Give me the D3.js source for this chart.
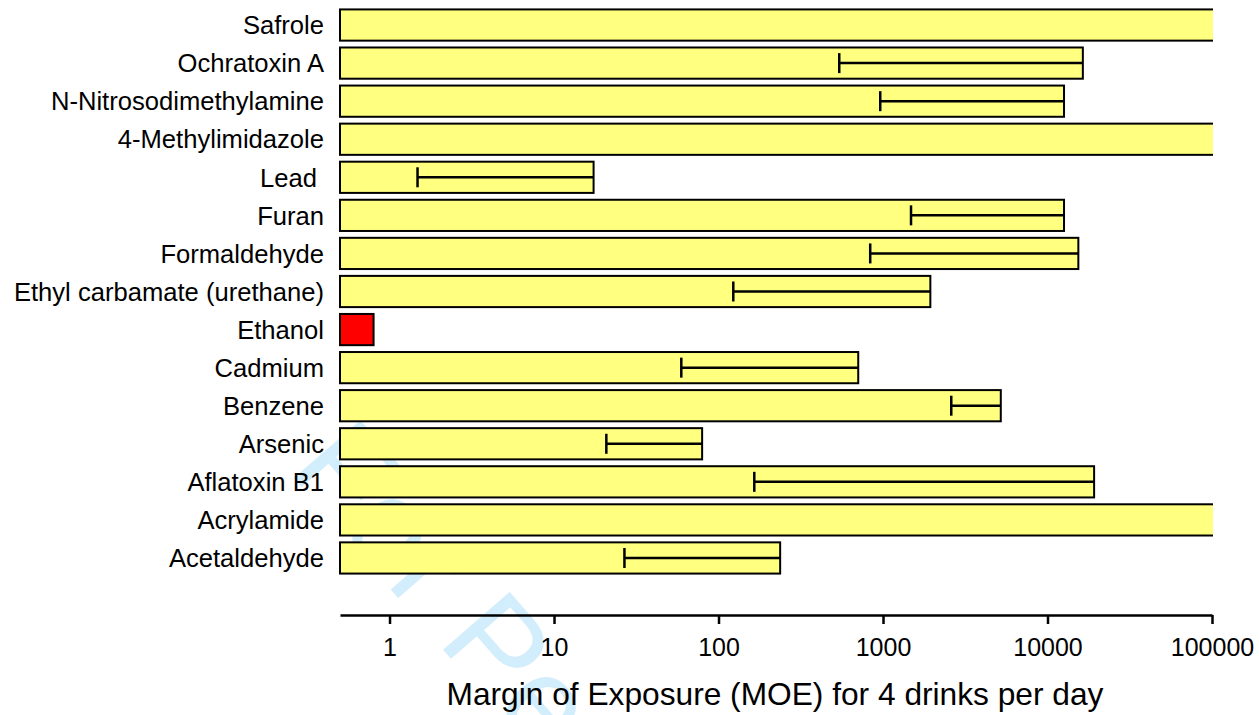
<!DOCTYPE html>
<html>
<head>
<meta charset="utf-8">
<script src="https://cdn.jsdelivr.net/npm/d3@7"></script>
<style>
  body { margin: 0; background: #fff; }
  svg { font-family: "Liberation Sans", Arial, sans-serif; }
</style>
</head>
<body>
<div id="chart"></div>
<script>
// data (top to bottom)
const compounds = ["Safrole", "Ochratoxin A", "N-Nitrosodimethylamine", "4-Methylimidazole", "Lead ",
  "Furan", "Formaldehyde", "Ethyl carbamate (urethane)", "Ethanol", "Cadmium", "Benzene",
  "Arsenic", "Aflatoxin B1", "Acrylamide", "Acetaldehyde"];
// upper MOE (bar end); values above 100000 run off the axis
const moeHigh = [300000, 16400, 12600, 300000, 17.4, 12600, 15400, 1940, 0.8, 707, 5200, 79.5, 19200, 300000, 237];
// lower MOE (start of range line), null where none shown
const moeLow = [null, 542, 962, null, 1.48, 1480, 836, 123, null, 59.4, 2600, 20.8, 165, null, 26.8];
const tickValues = [1, 10, 100, 1000, 10000, 100000];

const width = 1259, height = 715;
const margin = {left: 340, right: 47, top: 6, bottom: 138};

const svg = d3.select("#chart").append("svg")
  .attr("width", width)
  .attr("height", height);

// watermark
svg.append("text")
  .attr("transform", "translate(287,470) rotate(49)")
  .attr("font-size", 128)
  .attr("fill", "#d2edfb")
  .text("For Peer Review");

const x = d3.scaleLog()
  .domain([0.5, 100000])
  .range([margin.left, width - margin.right]);

const y = d3.scaleBand()
  .domain(compounds)
  .range([margin.top, 577])
  .paddingInner(0.18)
  .paddingOuter(0.09);

svg.append("clipPath").attr("id", "plotclip")
  .append("rect")
    .attr("x", margin.left - 2)
    .attr("y", 0)
    .attr("width", x(100000) - margin.left + 3)
    .attr("height", height);

const rows = compounds.map((c, i) => ({name: c, hi: moeHigh[i], lo: moeLow[i]}));

const plot = svg.append("g").attr("clip-path", "url(#plotclip)");

plot.selectAll("rect.bar")
  .data(rows)
  .join("rect")
    .attr("class", "bar")
    .attr("x", x(0.5))
    .attr("y", d => y(d.name))
    .attr("width", d => x(d.hi) - x(0.5))
    .attr("height", y.bandwidth())
    .attr("fill", d => d.name === "Ethanol" ? "#ff0000" : "#ffff80")
    .attr("stroke", "#000")
    .attr("stroke-width", 2);

const err = plot.selectAll("g.err")
  .data(rows.filter(d => d.lo != null))
  .join("g")
    .attr("class", "err");

err.append("line")
  .attr("x1", d => x(d.lo))
  .attr("x2", d => x(d.hi))
  .attr("y1", d => y(d.name) + y.bandwidth() / 2)
  .attr("y2", d => y(d.name) + y.bandwidth() / 2)
  .attr("stroke", "#000")
  .attr("stroke-width", 2.5);

err.append("line")
  .attr("x1", d => x(d.lo))
  .attr("x2", d => x(d.lo))
  .attr("y1", d => y(d.name) + y.bandwidth() / 2 - 10)
  .attr("y2", d => y(d.name) + y.bandwidth() / 2 + 10)
  .attr("stroke", "#000")
  .attr("stroke-width", 2.5);

// category labels
svg.append("g")
  .selectAll("text")
  .data(rows)
  .join("text")
    .attr("x", 324)
    .attr("y", d => y(d.name) + y.bandwidth() / 2)
    .attr("dy", "0.36em")
    .attr("text-anchor", "end")
    .attr("font-size", 25.6)
    .attr("fill", "#000")
    .style("white-space", "pre")
    .text(d => d.name);

// x axis
const xAxis = d3.axisBottom(x)
  .tickValues(tickValues)
  .tickFormat(d3.format("d"))
  .tickSize(9)
  .tickSizeOuter(0)
  .tickPadding(14);

const gx = svg.append("g")
  .attr("transform", `translate(0,615)`)
  .call(xAxis);
gx.select(".domain").attr("stroke-width", 2.5);
gx.selectAll(".tick line").attr("stroke-width", 2.5);
gx.selectAll(".tick text").attr("font-size", 25).attr("fill", "#000")
  .attr("font-family", "'Liberation Sans', Arial, sans-serif");

svg.append("text")
  .attr("x", 775)
  .attr("y", 705)
  .attr("text-anchor", "middle")
  .attr("font-size", 31.7)
  .attr("fill", "#000")
  .text("Margin of Exposure (MOE) for 4 drinks per day");
</script>
</body>
</html>
